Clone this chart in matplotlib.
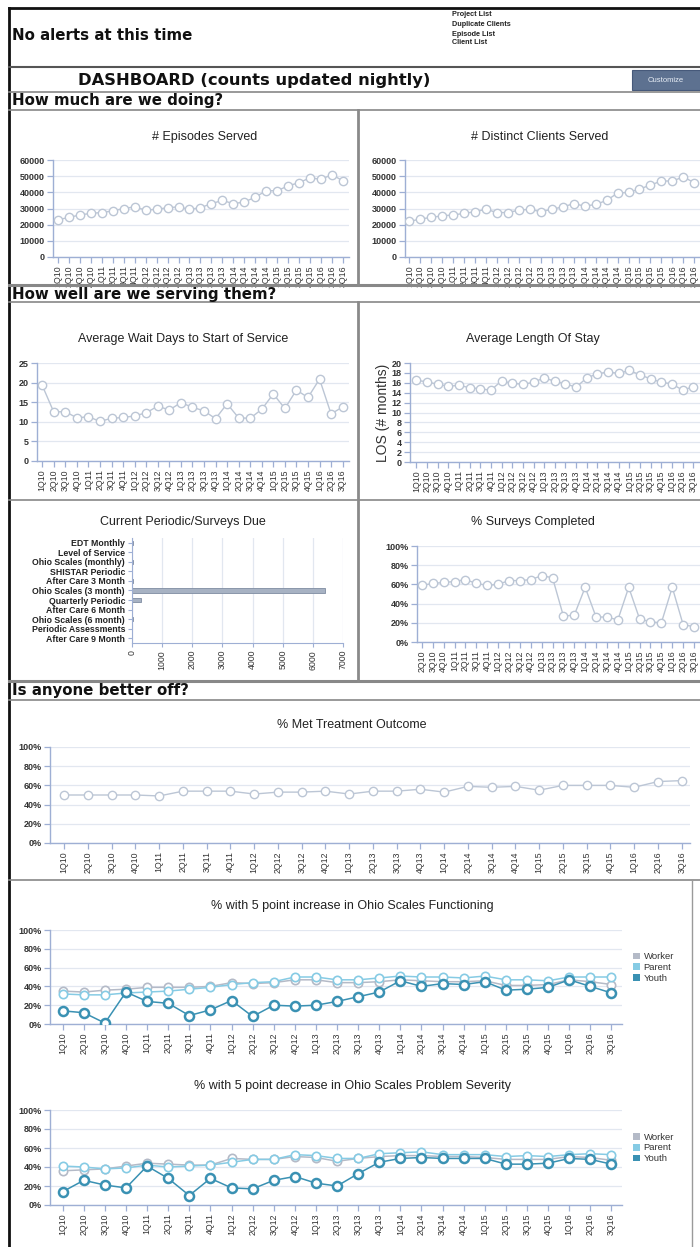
import matplotlib
matplotlib.use("Agg")
import matplotlib.pyplot as plt
from matplotlib.lines import Line2D
from matplotlib.patches import Rectangle
from matplotlib.transforms import Affine2D
import numpy as np

# ---------------- data ----------------
quarters = ["1Q10", "2Q10", "3Q10", "4Q10", "1Q11", "2Q11", "3Q11", "4Q11",
            "1Q12", "2Q12", "3Q12", "4Q12", "1Q13", "2Q13", "3Q13", "4Q13",
            "1Q14", "2Q14", "3Q14", "4Q14", "1Q15", "2Q15", "3Q15", "4Q15",
            "1Q16", "2Q16", "3Q16"]
survey_quarters = quarters[1:]

episodes = [23000, 24500, 26000, 27000, 27500, 28500, 30000, 31000, 29000,
            29500, 30500, 31000, 29500, 30500, 33000, 35000, 33000, 34000,
            37000, 41000, 41000, 44000, 46000, 49000, 48000, 51000, 47000]
clients = [22000, 23500, 24500, 25500, 26000, 27000, 28000, 29500, 27500,
           27500, 29000, 29500, 28000, 29500, 31000, 33000, 31500, 32500,
           35000, 39500, 40000, 42000, 44500, 47000, 47000, 49500, 46000]
wait_days = [19.3, 12.5, 12.6, 11.0, 11.3, 10.1, 10.9, 11.1, 11.5, 12.3,
             14.0, 13.0, 14.9, 13.7, 12.8, 10.8, 14.6, 11.0, 10.9, 13.2,
             17.1, 13.4, 18.1, 16.2, 20.9, 12.0, 13.8]
los_months = [16.5, 16.2, 15.7, 15.3, 15.5, 15.0, 14.8, 14.5, 16.4, 15.9,
              15.7, 16.1, 17.0, 16.3, 15.8, 15.1, 17.0, 17.8, 18.2, 17.9,
              18.5, 17.6, 16.8, 16.1, 15.8, 14.5, 15.2]

survey_types = ["EDT Monthly", "Level of Service", "Ohio Scales (monthly)",
                "SHISTAR Periodic", "After Care 3 Month", "Ohio Scales (3 month)",
                "Quarterly Periodic", "After Care 6 Month", "Ohio Scales (6 month)",
                "Periodic Assessments", "After Care 9 Month"]
surveys_due = [30, 5, 40, 5, 30, 6400, 300, 5, 25, 5, 10]

surveys_completed = [59, 61, 62, 63, 65, 61, 59, 60, 64, 64, 65, 69, 67,
                     27, 28, 57, 26, 26, 23, 57, 24, 21, 20, 57, 18, 16]

met_outcome = [50, 50, 50, 50, 49, 54, 54, 54, 51, 53, 53, 54, 51, 54,
               54, 56, 53, 59, 58, 59, 55, 60, 60, 60, 58, 64, 65]

func_worker = [35, 34, 36, 37, 39, 39, 39, 40, 44, 43, 44, 47, 47, 44,
               44, 45, 47, 46, 45, 45, 46, 41, 41, 42, 47, 45, 42]
func_parent = [32, 31, 31, 33, 34, 35, 37, 39, 42, 44, 45, 50, 50, 47,
               47, 49, 51, 50, 50, 49, 51, 47, 47, 46, 50, 50, 50]
func_youth = [14, 12, 1, 34, 24, 22, 9, 15, 25, 8, 20, 19, 20, 24,
              29, 34, 46, 40, 43, 42, 45, 36, 37, 39, 47, 40, 33]

sev_worker = [36, 37, 38, 41, 44, 43, 42, 42, 49, 48, 48, 51, 50, 46,
              49, 51, 52, 52, 51, 51, 50, 48, 48, 48, 51, 50, 47]
sev_parent = [41, 40, 38, 39, 42, 40, 41, 42, 45, 48, 48, 53, 52, 49,
              49, 54, 55, 56, 53, 53, 53, 51, 52, 51, 53, 54, 53]
sev_youth = [14, 26, 21, 18, 41, 28, 10, 28, 18, 17, 26, 30, 23, 20,
             33, 45, 49, 50, 49, 49, 49, 43, 43, 44, 49, 48, 43]

respondents = ["Worker", "Parent", "Youth"]

# ---------------- styling ----------------
W, H = 700, 1247
LINE_C = "#bcc6d5"
SPINE_C = "#9eafd4"
GRID_C = "#e2e7f0"
RESP_COLORS = {"Worker": "#b4bac7", "Parent": "#86cbe4", "Youth": "#3a91b3"}
TITLE_FONT = ["Liberation Sans", "DejaVu Sans"]
HEAD_FONT = ["DejaVu Sans"]

fig = plt.figure(figsize=(W / 100, H / 100), dpi=100)
fig.patch.set_facecolor("white")
PX = Affine2D().scale(1 / W, -1 / H).translate(0, 1) + fig.transFigure


def rect(x0, y0, x1, y1):
    return [x0 / W, 1 - y1 / H, (x1 - x0) / W, (y1 - y0) / H]


def hline(y, x0=9, x1=700, color="#8a8a8a", lw=1.2):
    fig.add_artist(Line2D([x0, x1], [y, y], transform=PX, color=color, lw=lw))


def vline(x, y0, y1, color="#8a8a8a", lw=1.2):
    fig.add_artist(Line2D([x, x], [y0, y1], transform=PX, color=color, lw=lw))


def ptext(x, y, s, **kw):
    fig.text(x / W, 1 - y / H, s, **kw)


def style_axes(ax, ylim, yticks, yfmt, xlabels, xlim, label_size=6.3):
    ax.set_facecolor("white")
    for side in ("top", "right"):
        ax.spines[side].set_visible(False)
    for side in ("left", "bottom"):
        ax.spines[side].set_color(SPINE_C)
        ax.spines[side].set_linewidth(1.0)
    ax.set_ylim(*ylim)
    ax.set_yticks(yticks)
    ax.set_yticklabels([yfmt(v) for v in yticks], fontsize=6.5,
                       family=TITLE_FONT, color="#222222", fontweight="bold")
    ax.yaxis.grid(True, color=GRID_C, lw=0.9)
    ax.set_axisbelow(True)
    ax.set_xlim(*xlim)
    ax.set_xticks(np.arange(len(xlabels)))
    ax.set_xticklabels(xlabels, rotation=90, fontsize=label_size,
                       family=TITLE_FONT, color="#444444")
    ax.tick_params(axis="both", colors=SPINE_C, length=4, width=0.9,
                   labelcolor="#333333", pad=2)


def line_series(ax, values, color=LINE_C, lw=1.0, mew=1.0, ms=6, z=3):
    x = np.arange(len(values))
    ax.plot(x, values, color=color, lw=lw, marker="o", ms=ms, mfc="white",
            mec=color, mew=mew, zorder=z)


def chart_title(x, y, s):
    ptext(x, y, s, ha="center", va="center", fontsize=9, family=TITLE_FONT,
          color="#222222")


# ---------------- page frame & headers ----------------
fig.add_artist(Line2D([9, 700], [8, 8], transform=PX, color="#111111", lw=2))
fig.add_artist(Line2D([9, 9], [8, 1247], transform=PX, color="#111111", lw=2))
hline(67, color="#555555", lw=1.5)
hline(92, color="#888888", lw=1.2)
hline(110, color="#888888", lw=1.2)
hline(285, color="#888888", lw=2.2)
hline(302, color="#888888", lw=1.2)
hline(500, x0=9, x1=700, color="#888888", lw=1.2)
hline(681, color="#888888", lw=2.2)
hline(700, color="#888888", lw=1.2)
hline(880, color="#888888", lw=1.2)
vline(358, 110, 285, lw=2.0)
vline(358, 302, 681, lw=2.0)
vline(692, 880, 1247, color="#9a9a9a", lw=1.0)

ptext(12, 35, "No alerts at this time", ha="left", va="center",
      fontsize=10.8, family=HEAD_FONT, fontweight="bold", color="#111111")
for yy, s in zip([15, 24, 34, 43],
                 ["Project List", "Duplicate Clients", "Episode List", "Client List"]):
    ptext(452, yy, s, ha="left", va="center", fontsize=5.2,
          family=TITLE_FONT, fontweight="bold", color="#222222")

ptext(254, 80, "DASHBOARD (counts updated nightly)", ha="center", va="center",
      fontsize=11.8, family=HEAD_FONT, fontweight="bold", color="#111111")
fig.add_artist(Rectangle((632, 70), 75, 20, transform=PX,
                         facecolor="#5d7190", edgecolor="#46597a", lw=0.8))
ptext(648, 80, "Customize", ha="left", va="center", fontsize=5.5,
      family=TITLE_FONT, color="#e8eef6")

ptext(12, 101, "How much are we doing?", ha="left", va="center",
      fontsize=10.8, family=HEAD_FONT, fontweight="bold", color="#111111")
ptext(12, 294, "How well are we serving them?", ha="left", va="center",
      fontsize=10.8, family=HEAD_FONT, fontweight="bold", color="#111111")
ptext(12, 691, "Is anyone better off?", ha="left", va="center",
      fontsize=10.8, family=HEAD_FONT, fontweight="bold", color="#111111")

count_fmt = lambda v: f"{int(v)}"
pct_fmt = lambda v: f"{int(v)}%"

# ---------------- how much are we doing ----------------
ax = fig.add_axes(rect(53, 160, 349, 257))
style_axes(ax, (0, 60000), np.arange(0, 60001, 10000), count_fmt, quarters, (-0.45, 26.55))
line_series(ax, episodes)
chart_title(205, 137, "# Episodes Served")

ax = fig.add_axes(rect(405, 160, 703, 257))
style_axes(ax, (0, 60000), np.arange(0, 60001, 10000), count_fmt, quarters, (-0.4, 26.8))
line_series(ax, clients)
chart_title(540, 137, "# Distinct Clients Served")

# ---------------- how well are we serving them ----------------
ax = fig.add_axes(rect(37, 363, 349, 461))
style_axes(ax, (0, 25), np.arange(0, 26, 5), count_fmt, quarters, (-0.45, 26.55))
line_series(ax, wait_days)
chart_title(183, 339, "Average Wait Days to Start of Service")

ax = fig.add_axes(rect(410, 363, 706, 462))
style_axes(ax, (0, 20), np.arange(0, 21, 2), count_fmt, quarters, (-0.6, 27.2))
line_series(ax, los_months)
ax.set_ylabel("LOS (# months)", fontsize=10, family=TITLE_FONT,
              color="#333333", labelpad=1)
chart_title(533, 339, "Average Length Of Stay")

# Surveys due (horizontal bars)
ax = fig.add_axes(rect(132, 538, 343, 643))
ypos = np.arange(len(survey_types))
ax.barh(ypos, surveys_due, height=0.45, color="#a7b2c3", edgecolor="#7f8ca1", lw=0.6)
ax.set_ylim(len(survey_types) - 0.5, -0.5)
ax.set_yticks(ypos)
ax.set_yticklabels(survey_types, fontsize=6.3, family=TITLE_FONT,
                   fontweight="bold", color="#222222")
ax.set_xlim(0, 7000)
ax.set_xticks(np.arange(0, 7001, 1000))
ax.set_xticklabels([str(v) for v in range(0, 7001, 1000)], rotation=90,
                   fontsize=6.3, family=TITLE_FONT, color="#333333")
ax.xaxis.grid(True, color=GRID_C, lw=0.9)
ax.set_axisbelow(True)
for side in ("top", "right"):
    ax.spines[side].set_visible(False)
for side in ("left", "bottom"):
    ax.spines[side].set_color(SPINE_C)
ax.tick_params(axis="both", colors=SPINE_C, length=3, width=0.8,
               labelcolor="#333333", pad=2)
ax.tick_params(axis="y", labelcolor="#222222")
chart_title(183, 522, "Current Periodic/Surveys Due")

ax = fig.add_axes(rect(417, 546, 706, 642))
style_axes(ax, (0, 100), np.arange(0, 101, 20), pct_fmt, survey_quarters, (-0.45, 26.1))
line_series(ax, surveys_completed)
chart_title(533, 522, "% Surveys Completed")

# ---------------- is anyone better off ----------------
ax = fig.add_axes(rect(50, 747, 690, 843))
style_axes(ax, (0, 100), np.arange(0, 101, 20), pct_fmt, quarters, (-0.6, 26.35))
line_series(ax, met_outcome)
chart_title(352, 725, "% Met Treatment Outcome")


def ohio_chart(top, bottom, title_y, title, worker, parent, youth):
    ax = fig.add_axes(rect(50, top, 622, bottom))
    style_axes(ax, (0, 100), np.arange(0, 101, 20), pct_fmt, quarters, (-0.6, 26.5))
    series = {"Worker": worker, "Parent": parent, "Youth": youth}
    for name in respondents:
        heavy = name == "Youth"
        line_series(ax, series[name], color=RESP_COLORS[name],
                    lw=1.1, mew=1.8 if heavy else 1.2, ms=6.5 if heavy else 6,
                    z=4 if heavy else 3)
    handles = [Rectangle((0, 0), 1, 1, facecolor=RESP_COLORS[n], edgecolor="none")
               for n in respondents]
    leg = ax.legend(handles, respondents, loc="center left",
                    bbox_to_anchor=(1.005, 0.6), frameon=False,
                    handlelength=0.7, handleheight=0.7, handletextpad=0.4,
                    labelspacing=0.2, prop={"family": TITLE_FONT, "size": 6.8})
    for t in leg.get_texts():
        t.set_color("#333333")
    chart_title(352, title_y, title)


ohio_chart(930, 1024, 906, "% with 5 point increase in Ohio Scales Functioning",
           func_worker, func_parent, func_youth)
ohio_chart(1110, 1205, 1086, "% with 5 point decrease in Ohio Scales Problem Severity",
           sev_worker, sev_parent, sev_youth)

fig.savefig("out.png", dpi=100)
